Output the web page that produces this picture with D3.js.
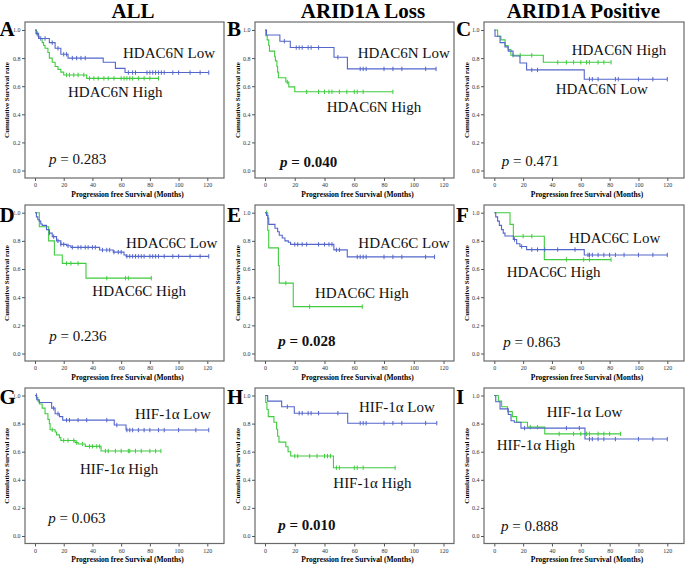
<!DOCTYPE html>
<html><head><meta charset="utf-8">
<script src="https://cdn.jsdelivr.net/npm/d3@7"></script>
<style>body{margin:0;background:#fff}svg{display:block}</style>
</head><body><svg id="c" width="685" height="567"></svg>
<script>
const columnTitles = ["ALL", "ARID1A Loss", "ARID1A Positive"];
const panelLetters = ["A","B","C","D","E","F","G","H","I"];
const markers = ["HDAC6N", "HDAC6C", "HIF-1α"];
const pValues = [0.283, 0.040, 0.471, 0.236, 0.028, 0.863, 0.063, 0.010, 0.888];
const xTicks = [0, 20, 40, 60, 80, 100, 120];
const yTicks = [0.0, 0.2, 0.4, 0.6, 0.8, 1.0];

// Kaplan-Meier steps: [month, survival after the drop]; censor marks: months
const A_low = [[0.7,0.976],[2.5,0.94],[10,0.91],[14,0.87],[18,0.827],[23,0.80],[47.5,0.77],[56,0.727],[62.7,0.697]];
const A_low_cens = [1.5,4,7,12,16,20,22,26,29,32,35,65,68,70,78,80,82,84,86,88,90,96,100,108,115,121];
const A_high = [[1,0.97],[2,0.955],[3,0.94],[5,0.91],[6,0.89],[7,0.87],[9,0.84],[10,0.80],[12,0.77],[14,0.74],[16,0.72],[18,0.70],[20,0.68],[36,0.656]];
const A_high_cens = [22,24,27,30,34,38,41,44,48,51,55,60,62,64,66,68,72,76,80,86];

const B_low = [[1,0.964],[10,0.92],[17,0.875],[46.4,0.806],[55.4,0.723]];
const B_low_cens = [13,21,23,25,29,31,36,49,64,66,68,80,86,92,108,115];
const B_high = [[0.5,0.96],[1.5,0.93],[2.5,0.89],[3,0.85],[6.5,0.81],[7,0.78],[8,0.74],[8.5,0.70],[9,0.66],[14,0.63],[16,0.595],[20,0.56]];
const B_high_cens = [15,28,36,40,43,45,50,55,60,62,66,86];

const C_low = [[0.5,0.955],[4,0.91],[7.4,0.88],[9.7,0.85],[13,0.815],[17.8,0.765],[22.4,0.716],[62.4,0.65]];
const C_low_cens = [26,30,66,68,72,84,86,100,110,120];
const C_high = [[2.3,0.955],[4.6,0.93],[7.5,0.89],[9.5,0.86],[11.5,0.82],[34,0.77]];
const C_high_cens = [13,18,26,44,50,55,60,64,66,72,76,81];

const D_low = [[1,0.97],[2,0.95],[3,0.94],[4,0.92],[5,0.91],[8,0.88],[10,0.855],[12,0.83],[15,0.80],[18,0.775],[22,0.765],[25,0.754],[45,0.735],[54.5,0.72],[62,0.70],[63.5,0.69]];
const D_low_cens = [10,13,16,18,20,23,26,30,32,35,37,40,42,47,50,52,55,58,60,64,66,68,70,72,74,76,80,82,84,86,90,96,100,108,115,121];
const D_high = [[3,0.90],[9.5,0.80],[13.5,0.70],[19,0.64],[35.5,0.535]];
const D_high_cens = [22,25,30,50,63,65,81];

const E_low = [[1,0.98],[2,0.96],[2.5,0.917],[6.7,0.89],[8.5,0.865],[9.6,0.84],[11.6,0.82],[13.4,0.80],[15.7,0.79],[17.2,0.775],[46.3,0.736],[55.3,0.686]];
const E_low_cens = [20,22,25,28,36,40,43,45,48,50,62,64,66,68,80,86,92,108,114];
const E_high = [[1.8,0.875],[2.5,0.75],[9,0.625],[9.6,0.50],[19,0.333]];
const E_high_cens = [1,14,30,65.4];

const F_low = [[1,0.97],[2.3,0.94],[3.5,0.91],[5,0.88],[6.2,0.855],[7.4,0.834],[13.2,0.81],[15.5,0.78],[17.8,0.76],[22.4,0.738],[62.4,0.70]];
const F_low_cens = [14,19,26,30,35,44,56,65,66,68,72,76,80,84,90,100,110,120];
const F_high = [[10.9,0.917],[13.2,0.833],[34.7,0.667]];
const F_high_cens = [20,26,50,62,66,81];

const G_low = [[1.2,0.97],[3,0.95],[11.6,0.91],[14,0.87],[17,0.85],[19.3,0.825],[55.2,0.79],[63.4,0.754]];
const G_low_cens = [1,13,16,22,24,30,36,50,57,64,66,68,72,76,80,86,90,100,112,121];
const G_high = [[1,0.985],[2,0.96],[3,0.94],[5,0.91],[7,0.87],[9,0.83],[10,0.80],[10.5,0.756],[14,0.74],[15,0.72],[17,0.70],[18,0.68],[28,0.665],[30,0.655],[35,0.638],[46,0.605]];
const G_high_cens = [12,20,23,27,29,33,38,40,43,45,49,51,56,60,65,66,70,74,80,84,87.7];

const H_low = [[1.8,0.96],[11.2,0.92],[19.7,0.874],[55.6,0.803]];
const H_low_cens = [15,23,25,29,31,36,49,64,66,68,80,86,92,108,115.5];
const H_high = [[0.5,0.95],[1.3,0.90],[2.2,0.85],[6,0.81],[7.8,0.76],[8.5,0.71],[9.4,0.668],[14,0.635],[15.5,0.60],[17.3,0.569],[46,0.486]];
const H_high_cens = [20,22,30,35,40,42,44,48,50,60,62,66,87.5];

const I_low = [[1,0.955],[4,0.905],[9.7,0.865],[11.6,0.82],[13.9,0.81],[18.5,0.768],[62.9,0.69]];
const I_low_cens = [21,50,59,66,68,72,76,84,100,110,120];
const I_high = [[2.8,0.96],[5.1,0.92],[9.2,0.885],[12.5,0.85],[15.5,0.81],[23,0.775],[35,0.727]];
const I_high_cens = [25,30,45,55,60,64,66,72,76,80,87.6];

const lowSeries = [A_low,B_low,C_low,D_low,E_low,F_low,G_low,H_low,I_low];
const lowCens = [A_low_cens,B_low_cens,C_low_cens,D_low_cens,E_low_cens,F_low_cens,G_low_cens,H_low_cens,I_low_cens];
const highSeries = [A_high,B_high,C_high,D_high,E_high,F_high,G_high,H_high,I_high];
const highCens = [A_high_cens,B_high_cens,C_high_cens,D_high_cens,E_high_cens,F_high_cens,G_high_cens,H_high_cens,I_high_cens];

// ---- layout ----
const cols = [{L:25,R:224,x0:35,x1:207.3,yt:8.5,tc:133,lx:-0.5},
              {L:255,R:454,x0:265,x1:443.5,yt:239.5,tc:363,lx:227},
              {L:484,R:684,x0:494.3,x1:667.3,yt:468.5,tc:583.5,lx:456}];
const rows = [{T:22,y1:30,y0:170.5,B:178,lb:36},
              {T:205,y1:212.7,y0:353.5,B:361,lb:222},
              {T:388,y1:395.5,y0:536,B:543.5,lb:404}];
const labelPos = [
  {low:[123,58], high:[68,97], p:[49,164]},
  {low:[357.7,58], high:[326.7,112], p:[280,166.7]},
  {low:[555.7,94], high:[571.7,55], p:[501.7,165.7]},
  {low:[126,248.3], high:[92.3,295.7], p:[49.3,340.7]},
  {low:[358.3,248.3], high:[315,298.3], p:[278.3,346]},
  {low:[569,243.3], high:[506.7,277.3], p:[503.3,347.3]},
  {low:[135,419], high:[80,474], p:[48.3,522.7]},
  {low:[359,411.7], high:[333.3,488.3], p:[278.3,530]},
  {low:[546.7,416.7], high:[496.7,450], p:[501,530.7]}
];
const BLUE = "#5366cc", GREEN = "#3fcc3f";
const SERIF = "'Liberation Serif','Times New Roman',serif";

const svg = d3.select("#c");
svg.append("rect").attr("width",685).attr("height",567).attr("fill","#fff");

columnTitles.forEach((t,i)=>{
  svg.append("text").attr("x",cols[i].tc).attr("y",17.5).attr("text-anchor","middle")
    .attr("font-family",SERIF).attr("font-weight","bold").attr("font-size",21).text(t);
});

function stepValue(steps,t){let s=1;for(const [tt,v] of steps){if(tt<=t) s=v;} return s;}

for(let i=0;i<9;i++){
  const c = cols[i%3], r = rows[Math.floor(i/3)];
  const g = svg.append("g");
  const x = d3.scaleLinear().domain([0,120]).range([c.x0,c.x1]);
  const y = d3.scaleLinear().domain([0,1]).range([r.y0,r.y1]);

  g.append("rect").attr("x",c.L).attr("y",r.T).attr("width",c.R-c.L).attr("height",r.B-r.T)
    .attr("fill","none").attr("stroke","#6a6a6a").attr("stroke-width",1.2);

  const xa = g.append("g").attr("transform",`translate(0,${r.B})`)
    .call(d3.axisBottom(x).tickValues(xTicks).tickSize(3).tickPadding(2).tickFormat(d3.format("d")));
  const ya = g.append("g").attr("transform",`translate(${c.L},0)`)
    .call(d3.axisLeft(y).tickValues(yTicks).tickSize(3).tickPadding(1.5).tickFormat(d3.format(".1f")));
  [xa,ya].forEach(a=>{
    a.select(".domain").remove();
    a.selectAll("line").attr("stroke","#555");
    a.selectAll("text").attr("font-family",SERIF).attr("font-size",6).attr("fill","#333");
  });

  g.append("text").attr("transform",`translate(${c.yt},${(r.T+r.B)/2}) rotate(-90)`)
    .attr("text-anchor","middle").attr("font-family",SERIF).attr("font-weight","bold")
    .attr("font-size",7).text("Cumulative Survival rate");
  g.append("text").attr("x",(c.L+c.R)/2+3).attr("y",r.B+18.5).attr("text-anchor","middle")
    .attr("font-family",SERIF).attr("font-weight","bold").attr("font-size",7.5)
    .text("Progression free Survival (Months)");

  const line = d3.line().x(d=>x(d[0])).y(d=>y(d[1]));
  const curves = [[highSeries[i],highCens[i],GREEN],[lowSeries[i],lowCens[i],BLUE]];
  curves.forEach(([steps,cens,col])=>{
    const pts=[[0,1]]; let prev=1;
    steps.forEach(([t,s])=>{pts.push([t,prev]);pts.push([t,s]);prev=s;});
    const end = Math.max(d3.max(cens), d3.max(steps,d=>d[0]));
    pts.push([end,prev]);
    g.append("path").attr("d",line(pts)).attr("fill","none").attr("stroke",col).attr("stroke-width",1.1);
    g.selectAll(null).data(cens).enter().append("line")
      .attr("x1",d=>x(d)).attr("x2",d=>x(d))
      .attr("y1",d=>y(stepValue(steps,d))-2.2).attr("y2",d=>y(stepValue(steps,d))+2.2)
      .attr("stroke",col).attr("stroke-width",1);
  });

  const lp = labelPos[i], mk = markers[Math.floor(i/3)];
  [["low"," Low"],["high"," High"]].forEach(([k,suf])=>{
    g.append("text").attr("x",lp[k][0]).attr("y",lp[k][1]).attr("font-family",SERIF)
      .attr("font-size",15).attr("fill","#111").text(mk+suf);
  });
  const sig = pValues[i] < 0.05;
  const pt = g.append("text").attr("x",lp.p[0]).attr("y",lp.p[1]).attr("font-family",SERIF)
    .attr("font-size",15).attr("fill","#111").attr("font-weight",sig?"bold":"normal");
  pt.append("tspan").attr("font-style","italic").text("p");
  pt.append("tspan").text(" = "+d3.format(".3f")(pValues[i]));

  svg.append("text").attr("x",c.lx).attr("y",r.lb).attr("font-family",SERIF)
    .attr("font-weight","bold").attr("font-size",21)
    .attr("stroke","#fff").attr("stroke-width",1.5).attr("paint-order","stroke")
    .text(panelLetters[i]);
}
</script></body></html>
